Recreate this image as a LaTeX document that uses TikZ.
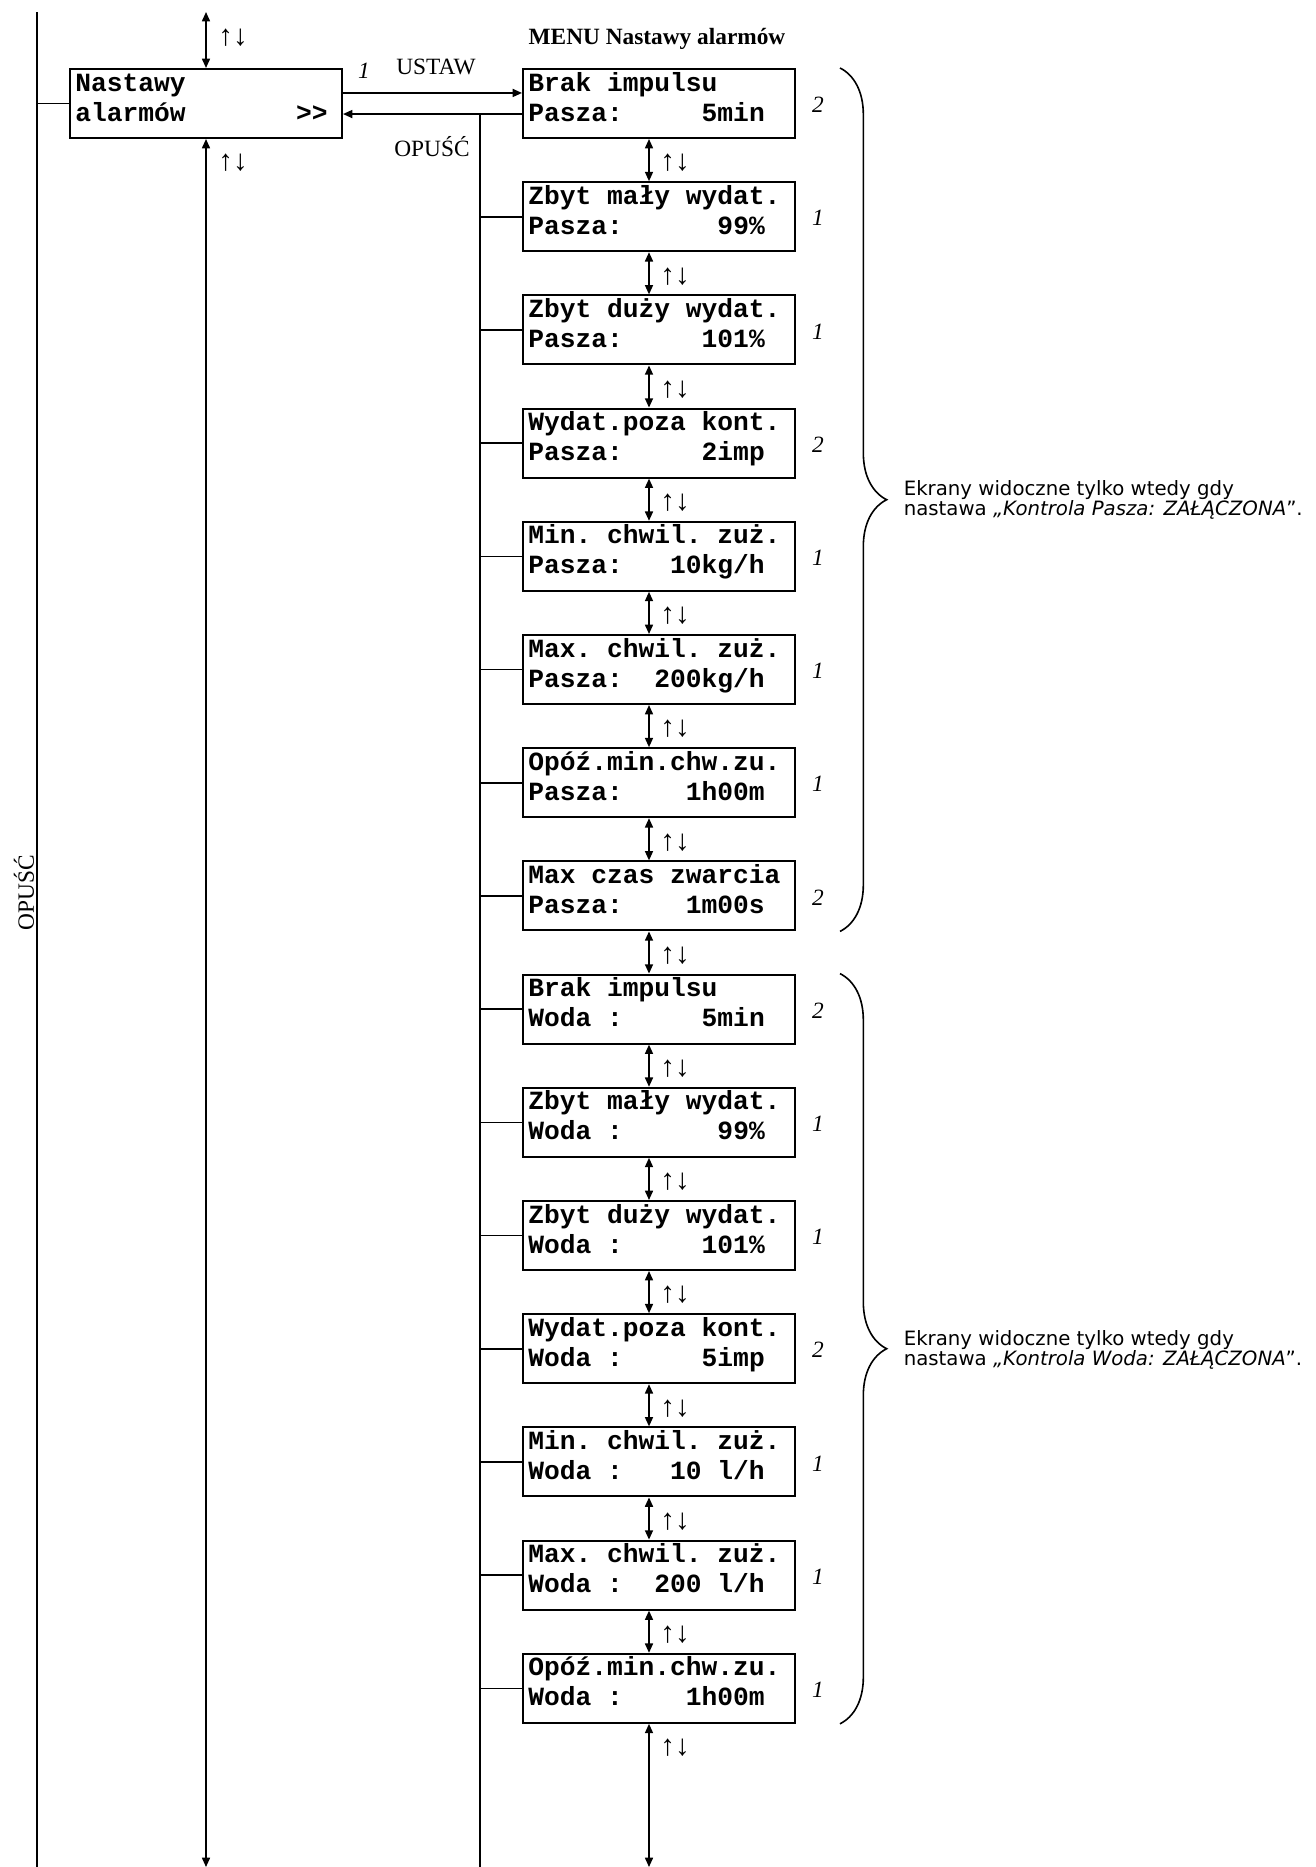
\documentclass[tikz,border=0pt]{standalone}
\usepackage{fontspec}
\setmainfont{Liberation Serif}
\newfontfamily\lcdfamily{Liberation Mono}
\newfontfamily\notefamily{DejaVu Sans}
\usepackage{tikz}
\usetikzlibrary{arrows.meta, decorations.pathreplacing}

\newcommand\lcdlines[2]{\parbox[c][51.75pt][t]{196pt}{\rule{0pt}{16.5pt}#1\\#2}}

\tikzset{
  screen/.style={draw, line width=1.5pt, inner xsep=4pt, inner ysep=0pt, anchor=north west,
    font=\lcdfamily\bfseries\frenchspacing\fontsize{19.7}{22.5}\selectfont},
  numlabel/.style={font=\itshape\fontsize{17.5}{20}\selectfont},
  updown/.style={font=\fontsize{22}{26}\selectfont, inner sep=0pt},
  keylabel/.style={font=\fontsize{17.5}{20}\selectfont},
  note/.style={font=\notefamily\fontsize{14.8}{13.6}\selectfont, align=left, anchor=west, inner sep=0pt},
  curly/.style={decorate, decoration={brace, amplitude=35pt}, line width=1.2pt}
}

\begin{document}
\begin{tikzpicture}[x=0.75pt, y=-0.75pt, >={Triangle[length=7pt,width=6pt]}, line width=1.2pt]
    \useasboundingbox (0,0) rectangle (1316,1867);
    \coordinate (bot) at (0,1867);
    \coordinate (lt) at (37,12);
    \coordinate (back) at (480,113);
    \coordinate (bx) at (840,0);

    \node[font=\bfseries\fontsize{17.5}{20}\selectfont] (title) at (657,39) {MENU Nastawy alarmów};
    \node[screen] (nast) at (69,68) {\lcdlines{Nastawy}{alarmów~~~~~~~>\kern0pt>}};

    % screens of the menu
    \foreach \i/\txta/\txtb/\n in {
        1/{Brak impulsu}/{Pasza:~~~~~5min}/2,
        2/{Zbyt mały wydat.}/{Pasza:~~~~~~99\%}/1,
        3/{Zbyt duży wydat.}/{Pasza:~~~~~101\%}/1,
        4/{Wydat.poza kont.}/{Pasza:~~~~~2imp}/2,
        5/{Min. chwil. zuż.}/{Pasza:~~~10kg/h}/1,
        6/{Max. chwil. zuż.}/{Pasza:~~200kg/h}/1,
        7/{Opóź.min.chw.zu.}/{Pasza:~~~~1h00m}/1,
        8/{Max czas zwarcia}/{Pasza:~~~~1m00s}/2,
        9/{Brak impulsu}/{Woda~:~~~~~5min}/2,
        10/{Zbyt mały wydat.}/{Woda~:~~~~~~99\%}/1,
        11/{Zbyt duży wydat.}/{Woda~:~~~~~101\%}/1,
        12/{Wydat.poza kont.}/{Woda~:~~~~~5imp}/2,
        13/{Min. chwil. zuż.}/{Woda~:~~~10~l/h}/1,
        14/{Max. chwil. zuż.}/{Woda~:~~200~l/h}/1,
        15/{Opóź.min.chw.zu.}/{Woda~:~~~~1h00m}/1}{
        \pgfmathsetmacro\ytop{68+(\i-1)*113.2}
        \node[screen] (s\i) at (522,\ytop) {\lcdlines{\txta}{\txtb}};
        \node[numlabel] (n\i) at (818,\ytop+37) {\n};
    }

    % up/down links and exits
    \foreach \i [count=\j from 2] in {1,...,14}{
        \draw[<->] ([xshift=-7.5pt]s\i.south) -- ([xshift=-7.5pt]s\j.north);
        \node[updown] (u\i) at (675,{68+(\i-1)*113.2+95}) {↑↓};
        \draw (s\j.west) -- (s\j.west -| back);
    }
    \draw[<->] ([xshift=-7.5pt]s15.south) -- ([xshift=-7.5pt]s15.south |- bot);
    \node[updown] (u15) at (675,1748) {↑↓};

    \draw[->] ([yshift=7.9pt]nast.east) -- ([yshift=7.9pt]nast.east -| s1.west);
    \draw[->] ([yshift=-7.9pt]s1.west) -- ([yshift=-7.9pt]s1.west -| nast.east);
    \draw (back) -- (back |- bot);
    \node[numlabel] (one) at (364,71) {1};
    \node[keylabel] (ustaw) at (436,67) {USTAW};
    \node[keylabel] (opusc) at (432,147) {OPUŚĆ};

    \draw (lt) -- (lt |- bot);
    \draw (nast.west) -- (nast.west -| lt);
    \node[keylabel, rotate=90] (exit) at (24,893) {OPUŚĆ};
    \draw[<->] (nast.north |- lt) -- (nast.north);
    \draw[<->] (nast.south) -- (nast.south |- bot);
    \node[updown] (ua) at (233,38) {↑↓};
    \node[updown] (ub) at (233,163) {↑↓};

    % groups shown only with control on
    \draw[curly] (bx |- s1.north) -- (bx |- s8.south);
    \draw[curly] (bx |- s9.north) -- (bx |- s15.south);
    \node[note] (notep) at (903,500) {Ekrany widoczne tylko wtedy gdy\\nastawa \textit{„Kontrola Pasza: ZAŁĄCZONA}”.};
    \node[note] (notew) at (903,1350) {Ekrany widoczne tylko wtedy gdy\\nastawa \textit{„Kontrola Woda: ZAŁĄCZONA}”.};
\end{tikzpicture}
\end{document}
